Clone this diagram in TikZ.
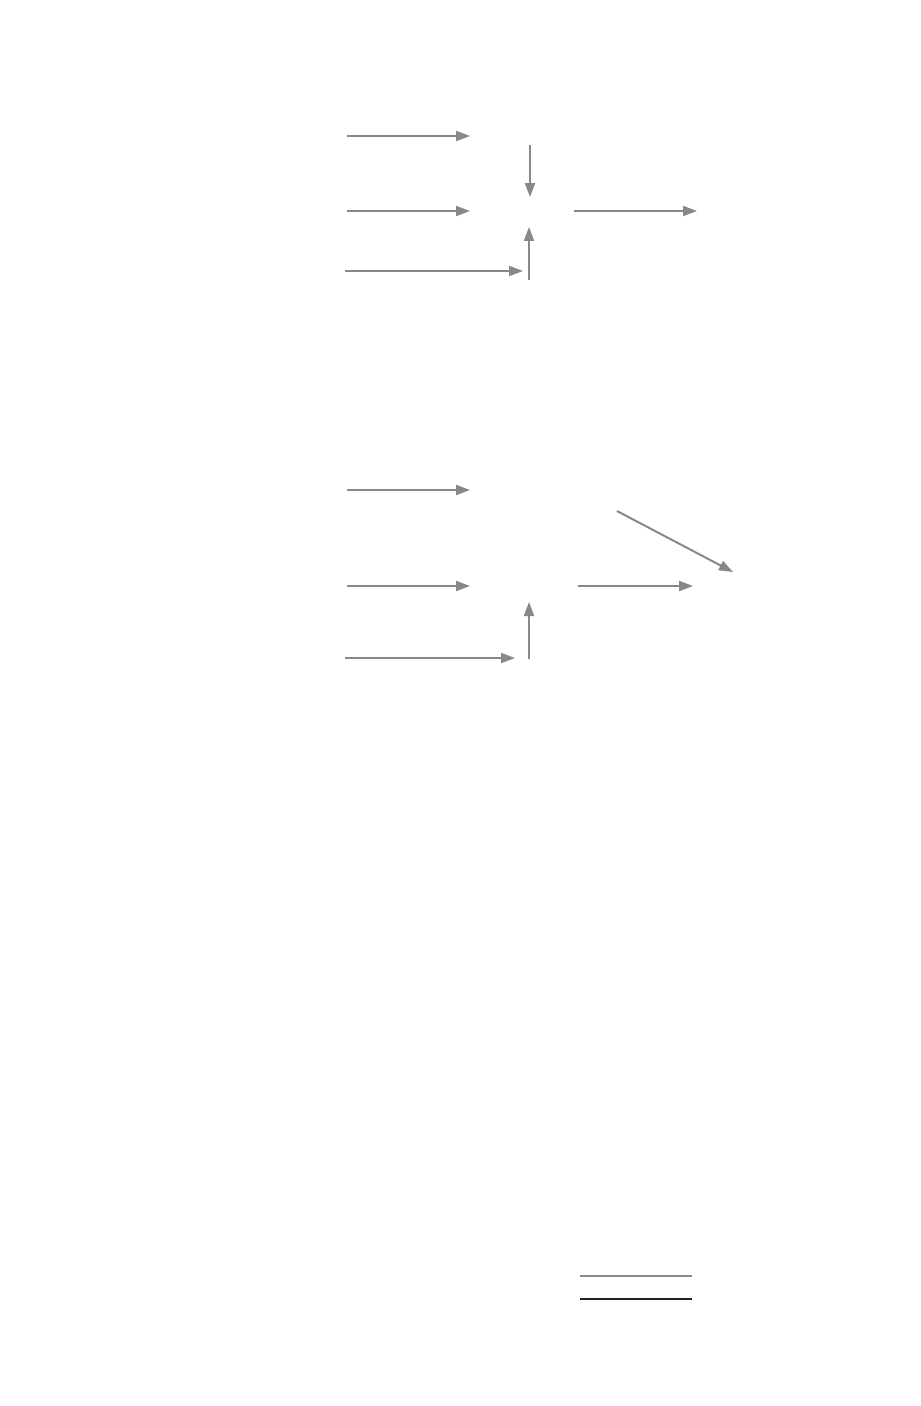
\documentclass[tikz,border=0pt]{standalone}
\usetikzlibrary{arrows.meta,positioning,calc}
\definecolor{flowgray}{HTML}{888888}
\definecolor{rulegray}{HTML}{8C8C84}
\definecolor{ruledark}{HTML}{222222}
\tikzset{flow/.style={draw=flowgray,line width=0.04cm,-{Triangle[length=0.28cm,width=0.2cm]}}}
\begin{document}
\begin{tikzpicture}[x=0.02cm,y=-0.02cm]
        \useasboundingbox (0,0) rectangle (920,1406);
        %% first block
        \coordinate (in_a_1) at (347,136);
        \coordinate (in_a_2) at (347,211);
        \coordinate (in_a_3) at (345,271);
        \coordinate (mid_a) at (529,211);
        \foreach \a in {1,2} {
          \draw[flow] (in_a_\a) -- ++(123,0);
        }
        \draw[flow] (in_a_3) -- ++(178,0);
        \draw[flow] ($(mid_a)+(1,-66)$) -- ($(mid_a)+(1,-14)$);
        \draw[flow] ($(mid_a)+(0,69)$) -- ($(mid_a)+(0,16)$);
        \draw[flow] ($(mid_a)+(45,0)$) -- ($(mid_a)+(168,0)$);

        %% second block
        \coordinate (in_b_1) at (347,490);
        \coordinate (in_b_2) at (347,586);
        \coordinate (in_b_3) at (345,658);
        \coordinate (mid_b) at (529,586);
        \foreach \a in {1,2} {
          \draw[flow] (in_b_\a) -- ++(123,0);
        }
        \draw[flow] (in_b_3) -- ++(170,0);
        \draw[flow] ($(mid_b)+(0,73)$) -- ($(mid_b)+(0,16)$);
        \draw[flow] ($(mid_b)+(49,0)$) -- ($(mid_b)+(164,0)$);
        \coordinate (diag_b) at (617,511);
        \draw[flow] (diag_b) -- ++(116,61);

        %% rules at the bottom
        \coordinate (rule_1) at (580,1276);
        \coordinate (rule_2) at (580,1299);
        \draw[rulegray,line width=0.04cm] (rule_1) -- ++(112,0);
        \draw[ruledark,line width=0.04cm] (rule_2) -- ++(112,0);
      \end{tikzpicture}
\end{document}
